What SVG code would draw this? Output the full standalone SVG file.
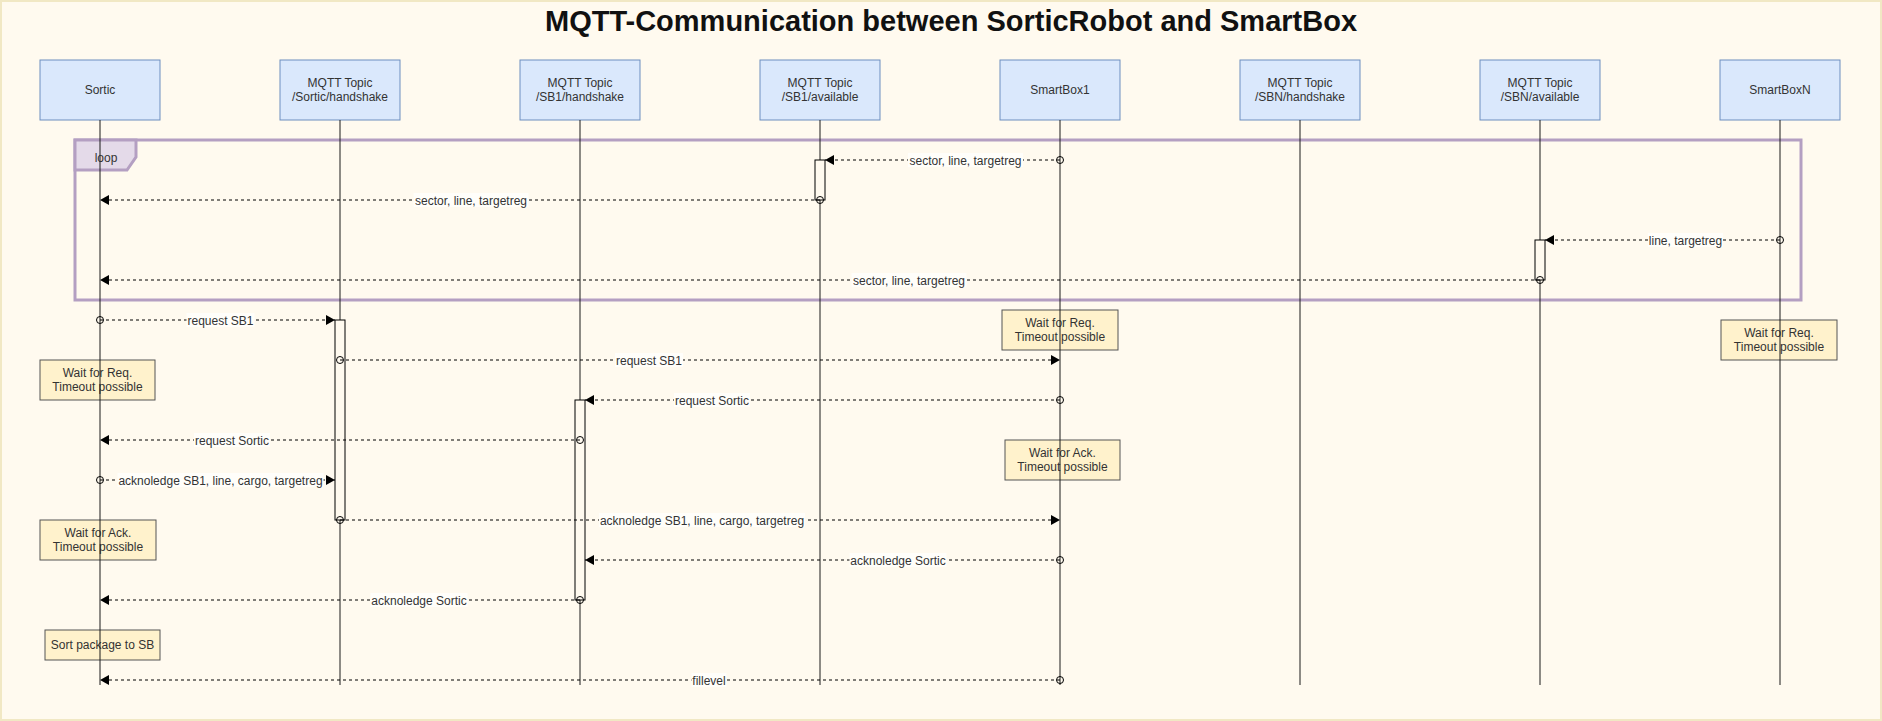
<svg xmlns="http://www.w3.org/2000/svg" width="1882" height="721" viewBox="0 0 1882 721">
<defs>
<style>
.bg{fill:#fffaef;stroke:#f1e8c4;stroke-width:2}
.title{font-family:"Liberation Sans",Arial,sans-serif;font-size:29px;font-weight:bold;fill:#111;text-anchor:middle}
.actor{fill:#dae8fc;stroke:#6c8ebf;stroke-width:1}
.life{stroke:#1a1a1a;stroke-width:1;fill:none}
.txt{font-family:"Liberation Sans",Arial,sans-serif;font-size:12px;fill:#333;text-anchor:middle}
.note{fill:#fff2cc;stroke:#555;stroke-width:1}
.act{fill:#fffaef;stroke:#000;stroke-width:1}
.frame{fill:none;stroke:#b49fc2;stroke-width:3}
.tab{fill:#e4dae9;stroke:#b49fc2;stroke-width:3}
.msg{stroke:#000;stroke-width:1;stroke-dasharray:3 3;fill:none;marker-start:url(#dot);marker-end:url(#arr)}
.lblbg{fill:#fffefa}
</style>
<marker id="arr" markerUnits="userSpaceOnUse" viewBox="0 0 9 10" refX="9" refY="5" markerWidth="9" markerHeight="10" orient="auto">
<path d="M0,0 L9,5 L0,10 Z" fill="#000" stroke="none"/>
</marker>
<marker id="dot" markerUnits="userSpaceOnUse" viewBox="0 0 9 9" refX="4.5" refY="4.5" markerWidth="9" markerHeight="9" orient="auto">
<circle cx="4.5" cy="4.5" r="3.5" fill="none" stroke="#000" stroke-width="1" stroke-dasharray="none"/>
</marker>
</defs>
<rect class="bg" x="1" y="1" width="1880" height="719"/>
<text class="title" x="951" y="31">MQTT-Communication between SorticRobot and SmartBox</text>

<g id="loop">
<rect class="frame" x="75" y="140" width="1726" height="160"/>
<path class="tab" d="M75,140 L136,140 L136,157 L127,170 L75,170 Z"/>
<text class="txt" x="106" y="162">loop</text>
</g>

<g id="notes">
<g id="note-sortic-req"><rect class="note" x="40" y="360" width="115" height="40"/><text class="txt" x="97.5" y="377">Wait for Req.</text><text class="txt" x="97.5" y="391">Timeout possible</text></g>
<g id="note-sortic-ack"><rect class="note" x="40" y="520" width="116" height="40"/><text class="txt" x="98" y="537">Wait for Ack.</text><text class="txt" x="98" y="551">Timeout possible</text></g>
<g id="note-sort"><rect class="note" x="45" y="630" width="115" height="30"/><text class="txt" x="102.5" y="649">Sort package to SB</text></g>
<g id="note-sb1-req"><rect class="note" x="1002" y="310" width="116" height="40"/><text class="txt" x="1060" y="327">Wait for Req.</text><text class="txt" x="1060" y="341">Timeout possible</text></g>
<g id="note-sb1-ack"><rect class="note" x="1005" y="440" width="115" height="40"/><text class="txt" x="1062.5" y="457">Wait for Ack.</text><text class="txt" x="1062.5" y="471">Timeout possible</text></g>
<g id="note-sbn-req"><rect class="note" x="1721" y="320" width="116" height="40"/><text class="txt" x="1779" y="337">Wait for Req.</text><text class="txt" x="1779" y="351">Timeout possible</text></g>
</g>

<g id="sortic"><rect class="actor" x="40" y="60" width="120" height="60"/><text class="txt" x="100" y="94">Sortic</text><line class="life" x1="100" y1="120" x2="100" y2="685"/></g>
<g id="topic-sortic-handshake"><rect class="actor" x="280" y="60" width="120" height="60"/><text class="txt" x="340" y="87">MQTT Topic</text><text class="txt" x="340" y="101">/Sortic/handshake</text><line class="life" x1="340" y1="120" x2="340" y2="685"/></g>
<g id="topic-sb1-handshake"><rect class="actor" x="520" y="60" width="120" height="60"/><text class="txt" x="580" y="87">MQTT Topic</text><text class="txt" x="580" y="101">/SB1/handshake</text><line class="life" x1="580" y1="120" x2="580" y2="685"/></g>
<g id="topic-sb1-available"><rect class="actor" x="760" y="60" width="120" height="60"/><text class="txt" x="820" y="87">MQTT Topic</text><text class="txt" x="820" y="101">/SB1/available</text><line class="life" x1="820" y1="120" x2="820" y2="685"/></g>
<g id="smartbox1"><rect class="actor" x="1000" y="60" width="120" height="60"/><text class="txt" x="1060" y="94">SmartBox1</text><line class="life" x1="1060" y1="120" x2="1060" y2="685"/></g>
<g id="topic-sbn-handshake"><rect class="actor" x="1240" y="60" width="120" height="60"/><text class="txt" x="1300" y="87">MQTT Topic</text><text class="txt" x="1300" y="101">/SBN/handshake</text><line class="life" x1="1300" y1="120" x2="1300" y2="685"/></g>
<g id="topic-sbn-available"><rect class="actor" x="1480" y="60" width="120" height="60"/><text class="txt" x="1540" y="87">MQTT Topic</text><text class="txt" x="1540" y="101">/SBN/available</text><line class="life" x1="1540" y1="120" x2="1540" y2="685"/></g>
<g id="smartboxn"><rect class="actor" x="1720" y="60" width="120" height="60"/><text class="txt" x="1780" y="94">SmartBoxN</text><line class="life" x1="1780" y1="120" x2="1780" y2="685"/></g>

<g id="activations">
<rect class="act" x="815" y="160" width="10" height="40"/>
<rect class="act" x="1535" y="240" width="10" height="40"/>
<rect class="act" x="335" y="320" width="10" height="200"/>
<rect class="act" x="575" y="400" width="10" height="200"/>
</g>

<g id="connectors">
<line class="msg" x1="1060" y1="160" x2="825" y2="160"/>
<rect class="lblbg" x="908" y="153" width="115" height="14"/><text class="txt" x="965.5" y="164.5">sector, line, targetreg</text>

<line class="msg" x1="820" y1="200" x2="100" y2="200"/>
<rect class="lblbg" x="413.5" y="193" width="115" height="14"/><text class="txt" x="471" y="204.5">sector, line, targetreg</text>

<line class="msg" x1="1780" y1="240" x2="1545" y2="240"/>
<rect class="lblbg" x="1648" y="233" width="75" height="14"/><text class="txt" x="1685.5" y="244.5">line, targetreg</text>

<line class="msg" x1="1540" y1="280" x2="100" y2="280"/>
<rect class="lblbg" x="851.5" y="273" width="115" height="14"/><text class="txt" x="909" y="284.5">sector, line, targetreg</text>

<line class="msg" x1="100" y1="320" x2="335" y2="320"/>
<rect class="lblbg" x="186.5" y="313" width="68" height="14"/><text class="txt" x="220.5" y="324.5">request SB1</text>

<line class="msg" x1="340" y1="360" x2="1060" y2="360"/>
<rect class="lblbg" x="615" y="353" width="68" height="14"/><text class="txt" x="649" y="364.5">request SB1</text>

<line class="msg" x1="1060" y1="400" x2="585" y2="400"/>
<rect class="lblbg" x="674" y="393" width="76" height="14"/><text class="txt" x="712" y="404.5">request Sortic</text>

<line class="msg" x1="580" y1="440" x2="100" y2="440"/>
<rect class="lblbg" x="194" y="433" width="76" height="14"/><text class="txt" x="232" y="444.5">request Sortic</text>

<line class="msg" x1="100" y1="480" x2="335" y2="480"/>
<rect class="lblbg" x="117.5" y="473" width="206" height="14"/><text class="txt" x="220.5" y="484.5">acknoledge SB1, line, cargo, targetreg</text>

<line class="msg" x1="340" y1="520" x2="1060" y2="520"/>
<rect class="lblbg" x="599" y="513" width="206" height="14"/><text class="txt" x="702" y="524.5">acknoledge SB1, line, cargo, targetreg</text>

<line class="msg" x1="1060" y1="560" x2="585" y2="560"/>
<rect class="lblbg" x="849.5" y="553" width="97" height="14"/><text class="txt" x="898" y="564.5">acknoledge Sortic</text>

<line class="msg" x1="580" y1="600" x2="100" y2="600"/>
<rect class="lblbg" x="370.5" y="593" width="97" height="14"/><text class="txt" x="419" y="604.5">acknoledge Sortic</text>

<line class="msg" x1="1060" y1="680" x2="100" y2="680"/>
<rect class="lblbg" x="691.5" y="673" width="35" height="14"/><text class="txt" x="709" y="684.5">fillevel</text>
</g>
</svg>
